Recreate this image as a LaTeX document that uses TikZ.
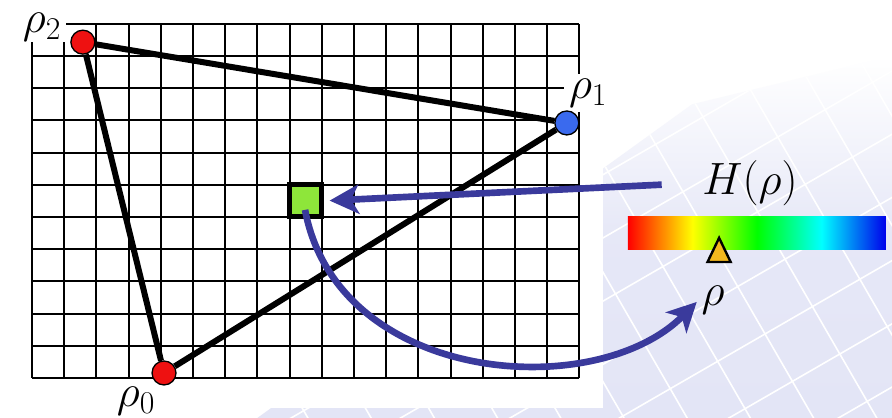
\RequirePackage{fix-cm}
\documentclass[tikz,border=0pt]{standalone}
\usetikzlibrary{arrows.meta, positioning, calc}
\definecolor{dotred}{HTML}{EE1111}
\definecolor{dotblue}{HTML}{3A6AEE}
\definecolor{cellgreen}{HTML}{8EE63A}
\definecolor{arrowblue}{HTML}{3A3A9C}
\definecolor{markyellow}{HTML}{F4B81E}
\definecolor{lavender}{HTML}{E3E5F6}
\pgfdeclarehorizontalshading{rainbow}{100bp}{color(0bp)=(red); color(25bp)=(red); color(37.5bp)=(yellow); color(50bp)=(green); color(62.5bp)=(cyan); color(75bp)=(blue!92!black); color(100bp)=(blue!92!black)}

\begin{document}
\begin{tikzpicture}[x=0.85cm, y=0.85cm,
    vertex/.style={circle, draw=black, line width=1pt, minimum size=18pt, inner sep=0pt},
    lab/.style={font=\fontsize{34}{40}\selectfont, inner sep=2pt},
    edge/.style={line width=4.5pt},
    hint/.style={arrowblue, line width=5pt, -{Stealth[length=22pt, width=22pt, inset=6pt]}}]

  % Fondo
  \useasboundingbox (-0.994,-1.242) rectangle (26.71,11.739);
  \fill[white] (-0.994,-1.242) rectangle (26.71,11.739);
  \begin{scope}
    \clip (7.0,-1.242) -- (26.71,-1.242) -- (26.71,10.0) -- (20.5,8.5) -- cycle;
    \shade[top color=white, bottom color=lavender, middle color=lavender!90] (7.0,-1.242) rectangle (26.71,10.0);
    \draw[white, line width=1.2pt, rotate=30, step=1.7] (0,-20) grid (35,0);
  \end{scope}
  \fill[white] (-0.994,-0.93) rectangle (17.73,11.739);

  % Rejilla
  \draw[line width=1.5pt, step=1] (0,0) grid (17,11);

  % Etiquetas de los vertices
  \node[lab, fill=white, inner xsep=4pt, inner ysep=1pt] (l2) at (0.31,10.90) {$\rho_2$};
  \node[lab, fill=white, inner sep=4pt] (l1) at (17.27,8.85) {$\rho_1$};
  \node[lab] (l0) at (3.23,-0.72) {$\rho_0$};

  % Celda
  \node[draw, line width=3.75pt, fill=cellgreen, minimum size=0.85cm, inner sep=0pt] (hcell) at (8.5,5.5) {};

  % Triangulo
  \node[vertex, fill=dotred] (r2) at (1.58,10.43) {};
  \node[vertex, fill=dotblue] (r1) at (16.61,7.92) {};
  \node[vertex, fill=dotred] (r0) at (4.10,0.155) {};
  \draw[edge] (r2) -- (r1);
  \draw[edge] (r1) -- (r0);
  \draw[edge] (r0) -- (r2);

  % Barra de color
  \shade[shading=rainbow] (18.51,4) rectangle (26.52,5);
  \draw[line width=1.8pt, fill=markyellow, line join=miter] (21.34,4.35) -- (21.70,3.60) -- (20.98,3.60) -- cycle;

  \node[lab] (hlab) at (22.30,6.06) {$H(\rho)$};
  \node[lab] (rholab) at (21.15,2.42) {$\rho$};

  % Flechas
  \draw[hint, shorten <=1.0cm, shorten >=4pt] (hlab.west) -- (hcell.east);
  \coordinate (hstart) at (8.48,5.22);
  \draw[hint, shorten >=2pt] (hstart) .. controls (9.5,-0.2) and (17.5,-0.8) .. (rholab.west);
\end{tikzpicture}
\end{document}
